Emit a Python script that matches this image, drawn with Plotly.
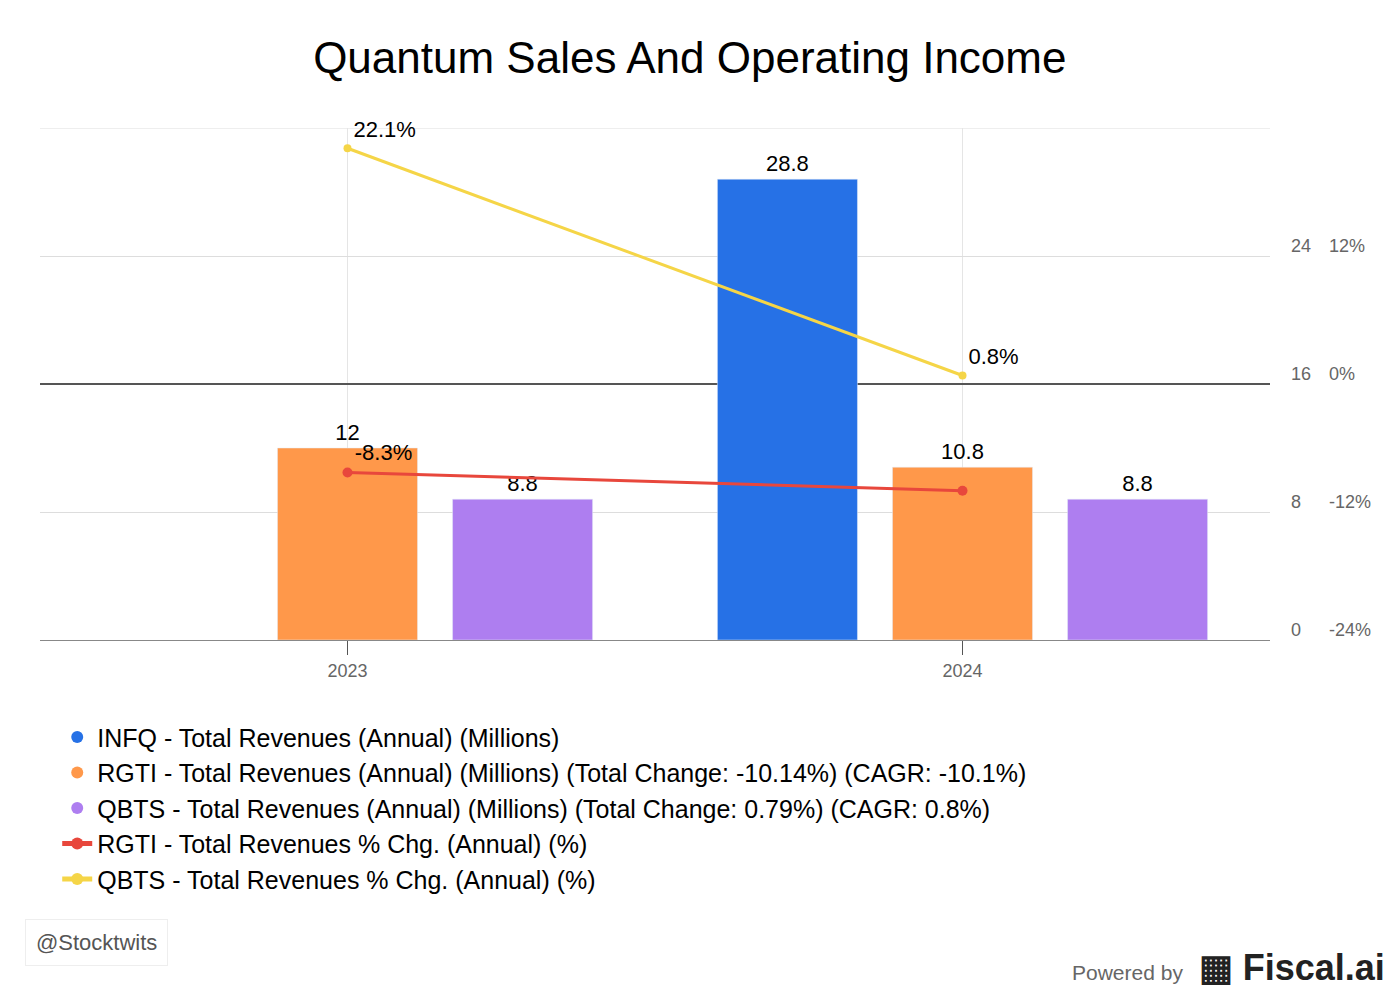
import plotly.graph_objects as go

years = [2023, 2024]
infq_rev = [None, 28.8]
rgti_rev = [12, 10.8]
qbts_rev = [8.8, 8.8]
rgti_chg = [-8.3, -10.0]
qbts_chg = [22.1, 0.8]
rgti_chg_labels = ["-8.3%", ""]
qbts_chg_labels = ["22.1%", "0.8%"]

F = "Liberation Sans"
names = ["INFQ - Total Revenues (Annual) (Millions)",
         "RGTI - Total Revenues (Annual) (Millions) (Total Change: -10.14%) (CAGR: -10.1%)",
         "QBTS - Total Revenues (Annual) (Millions) (Total Change: 0.79%) (CAGR: 0.8%)"]
colors = ["#2671E6", "#FF984A", "#AE7EF0"]
fig = go.Figure()
for vals, nm, c, tx in [(infq_rev, names[0], colors[0], ["", "28.8"]),
                        (rgti_rev, names[1], colors[1], ["12", "10.8"]),
                        (qbts_rev, names[2], colors[2], ["8.8", "8.8"])]:
    fig.add_bar(x=years, y=vals, name=nm, marker_color=c, showlegend=False, legendgroup=nm,
                text=tx, textposition="outside", textfont=dict(size=22, color="#000"), cliponaxis=False)
for nm, c in zip(names, colors):
    fig.add_scatter(x=[None], y=[None], mode="markers", name=nm, legendgroup=nm,
                    marker=dict(size=24, color=c, symbol="circle"))
fig.add_scatter(x=years, y=rgti_chg, yaxis="y2", name="RGTI - Total Revenues % Chg. (Annual) (%)", mode="lines+markers+text",
                line=dict(color="#E8473C", width=3), marker=dict(size=10), text=rgti_chg_labels, textposition="top right",
                textfont=dict(size=22, color="#000"), cliponaxis=False)
fig.add_scatter(x=years, y=qbts_chg, yaxis="y2", name="QBTS - Total Revenues % Chg. (Annual) (%)", mode="lines+markers+text",
                line=dict(color="#F5D547", width=3), marker=dict(size=8), text=qbts_chg_labels, textposition="top right",
                textfont=dict(size=22, color="#000"), cliponaxis=False)

fig.update_layout(
    width=1400, height=1000, paper_bgcolor="white", plot_bgcolor="white",
    font=dict(family=F, color="#000"),
    title=dict(text="Quantum Sales And Operating Income", x=0.487, xanchor="center", y=0.950, yanchor="middle",
               font=dict(size=44, family=F)),
    margin=dict(l=32, r=138, t=120, b=368),
    barmode="group", bargap=0.146, bargroupgap=0.2,
    xaxis=dict(range=[2022.5, 2024.5], tickvals=years, ticktext=["2023", "2024"], showgrid=True, gridcolor="#E5E5E5",
               showline=True, linecolor="#888", ticks="outside", ticklen=14, tickcolor="#555",
               tickfont=dict(size=18, color="#666"), zeroline=False),
    yaxis=dict(range=[0, 32], tickvals=[0, 8, 16, 24, 32], ticktext=["0", "8", "16", "24", ""], side="right",
               showgrid=True, gridcolor="#DDDDDD", zeroline=False, ticklabelstandoff=20, ticklabelshift=-10,
               tickfont=dict(size=18, color="#666")),
    yaxis2=dict(range=[-24, 24], overlaying="y", side="right", tickvals=[-24, -12, 0, 12], ticktext=["-24%", "-12%", "0%", "12%"],
                showgrid=False, zeroline=True, zerolinecolor="#555", zerolinewidth=1.5, ticklabelstandoff=58, ticklabelshift=-10,
                tickfont=dict(size=18, color="#666")),
    legend=dict(x=0.014, y=-0.145, xanchor="left", yanchor="top", font=dict(size=25, family=F), traceorder="normal",
                itemsizing="constant", tracegroupgap=3),
    showlegend=True,
)
fig.add_shape(type="line", xref="paper", yref="y", x0=0, x1=1, y0=32, y1=32, line=dict(color="#DDDDDD", width=1), layer="below")
fig.add_annotation(xref="paper", yref="paper", x=-0.012, y=-0.59, xanchor="left", yanchor="middle",
                   text="@Stocktwits", showarrow=False, font=dict(size=22, color="#555"),
                   bgcolor="white", bordercolor="#EEE", borderwidth=1, borderpad=10)
fig.add_annotation(xref="paper", yref="paper", x=1.095, y=-0.64, xanchor="right", yanchor="middle",
                   text="<span style='font-size:21px;color:#666'>Powered by </span> <b>▦ Fiscal.ai</b>",
                   showarrow=False, font=dict(size=36, color="#222"))
fig.write_html("out.html")
